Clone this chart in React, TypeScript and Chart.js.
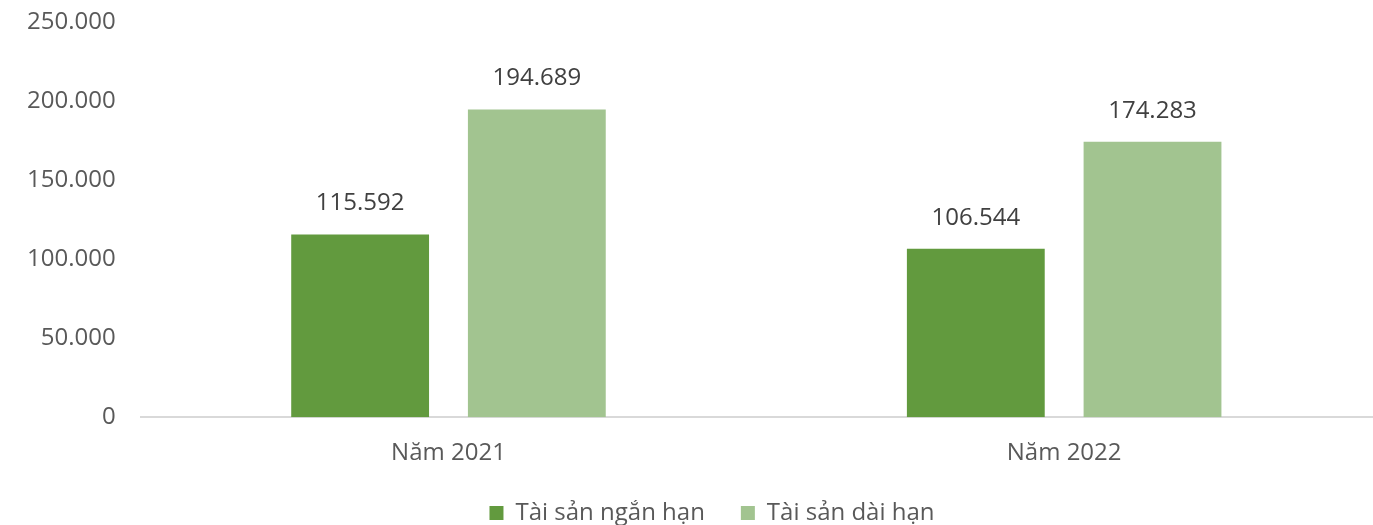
import React, { useEffect, useRef } from "react";
import { Chart, registerables } from "chart.js";

Chart.register(...registerables);

const categories = ["Năm 2021", "Năm 2022"];
const seriesNames = ["Tài sản ngắn hạn", "Tài sản dài hạn"];
const shortTerm = [115592, 106544];
const longTerm = [194689, 174283];
const yTicks = [0, 50000, 100000, 150000, 200000, 250000];

const FONT = "'Open Sans', 'Noto Sans', sans-serif";
const TEXT = "#595959";

function fmt(v: number): string {
  return Math.round(v)
    .toString()
    .replace(/\B(?=(\d{3})+(?!\d))/g, ".");
}

const labelPlugin = {
  id: "barLabels",
  afterLayout(chart: any) {
    if (chart.legend) chart.legend.left += 50;
  },
  afterDatasetsDraw(chart: any) {
    const ctx = chart.ctx;
    ctx.save();
    ctx.font = `24px ${FONT}`;
    ctx.fillStyle = "#404040";
    ctx.textAlign = "center";
    ctx.textBaseline = "bottom";
    chart.data.datasets.forEach((ds: any, i: number) => {
      const meta = chart.getDatasetMeta(i);
      meta.data.forEach((bar: any, j: number) => {
        ctx.fillText(fmt(ds.data[j]), bar.x, bar.y - 19);
      });
    });
    ctx.restore();
  },
};

export default function App() {
  const ref = useRef<HTMLCanvasElement>(null);
  useEffect(() => {
    document.body.style.margin = "0";
    const chart = new Chart(ref.current!, {
      type: "bar",
      data: {
        labels: categories,
        datasets: [
          {
            label: seriesNames[0],
            data: shortTerm,
            backgroundColor: "#629A3E",
            categoryPercentage: 0.574,
            barPercentage: 0.78,
          },
          {
            label: seriesNames[1],
            data: longTerm,
            backgroundColor: "#A2C490",
            categoryPercentage: 0.574,
            barPercentage: 0.78,
          },
        ],
      },
      options: {
        responsive: false,
        animation: false,
        layout: { padding: { left: 2, right: 1, top: 0, bottom: -10 } },
        scales: {
          x: {
            grid: { display: false },
            border: { display: true, color: "#D9D9D9", width: 2 },
            ticks: {
              color: TEXT,
              font: { family: FONT, size: 24 },
              padding: 14,
            },
            afterFit: (axis: any) => {
              axis.height -= 17;
            },
          },
          y: {
            min: 0,
            max: 250000,
            afterBuildTicks: (axis: any) => {
              axis.ticks = yTicks.map((v) => ({ value: v }));
            },
            afterFit: (axis: any) => {
              axis.paddingTop = 22;
              axis.paddingBottom = 14;
            },
            grid: { display: false, drawTicks: false },
            border: { display: false },
            ticks: {
              color: TEXT,
              font: { family: FONT, size: 24 },
              padding: 25,
              callback: (v: any) => fmt(Number(v)),
            },
          },
        },
        plugins: {
          legend: {
            position: "bottom",
            labels: {
              color: TEXT,
              font: { family: FONT, size: 24 },
              boxWidth: 14,
              boxHeight: 14,
              padding: 36,
            },
          },
          tooltip: { enabled: false },
        },
      },
      plugins: [labelPlugin],
    });
    return () => chart.destroy();
  }, []);
  return (
    <div style={{ position: "absolute", left: 0, top: 0, width: 1373, height: 525 }}>
      <canvas ref={ref} width={1373} height={525} />
    </div>
  );
}
